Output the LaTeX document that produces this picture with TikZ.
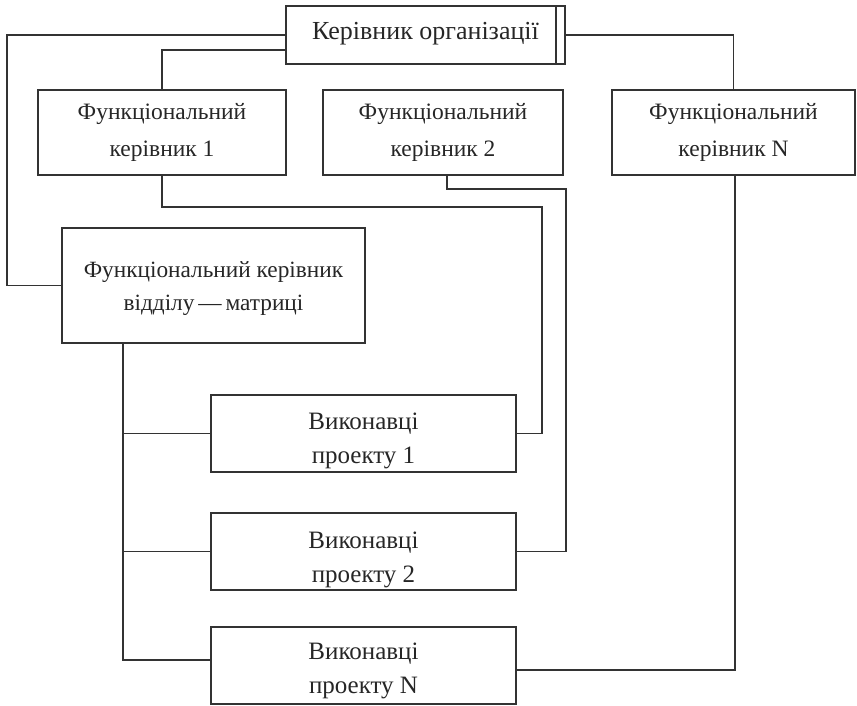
\documentclass[tikz,border=0pt]{standalone}
\usepackage{fontspec}
\setmainfont{Liberation Serif}
\begin{document}
\begin{tikzpicture}[x=1pt,y=-1pt,
  line width=1.3pt,
  ink/.style={draw=black!80},
  box/.style={ink, rectangle, inner sep=0pt},
  txt/.style={inner sep=0pt, align=center, text=black!85},
  fkfont/.style={font=\fontsize{23.5}{37}\selectfont},
  vkfont/.style={font=\fontsize{25}{34}\selectfont},
  link/.style={ink, line width=1.3pt}]
\useasboundingbox (0,0) rectangle (857,705);

% head of the organisation, with a doubled right edge
\node[box, minimum width=279, minimum height=58,
  label={[txt, font=\fontsize{26}{30}\selectfont, yshift=1pt]center:Керівник організації}] (top) at (425.5,35) {};
\draw[link] (556,6) -- (556,64);

% functional managers
\node[box, minimum width=248, minimum height=85,
  label={[txt, fkfont]center:{Функціональний\\керівник 1}}] (fk1) at (162,132.5) {};
\node[box, minimum width=240, minimum height=85,
  label={[txt, fkfont]center:{Функціональний\\керівник 2}}] (fk2) at (443,132.5) {};
\node[box, minimum width=243, minimum height=85,
  label={[txt, fkfont]center:{Функціональний\\керівник N}}] (fkn) at (733.5,132.5) {};

% matrix manager
\node[box, minimum width=303, minimum height=115,
  label={[txt, font=\fontsize{23.3}{33}\selectfont, yshift=-3pt]center:{Функціональний керівник\\відділу\,—\,матриці}}] (mx) at (213.5,285.5) {};

% project teams
\node[box, minimum width=305, minimum height=77,
  label={[txt, vkfont, yshift=-7pt]center:{Виконавці\\проекту 1}}] (v1) at (363.5,433.5) {};
\node[box, minimum width=305, minimum height=77,
  label={[txt, vkfont, yshift=-8pt]center:{Виконавці\\проекту 2}}] (v2) at (363.5,551.5) {};
\node[box, minimum width=305, minimum height=77,
  label={[txt, vkfont, yshift=-5pt]center:{Виконавці\\проекту N}}] (vn) at (363.5,665.5) {};

% connectors from the head
\draw[link] (top.west) -- (7,35) |- (mx.west);
\draw[link] ([yshift=-15pt]top.west) -| (fk1.north);
\draw[link] (top.east) -| (fkn.north);

% functional managers to project teams
\draw[link] (fk1.south) |- (542,207) |- (v1.east);
\draw[link] ([xshift=4pt]fk2.south) |- (566,189) |- (v2.east);
\coordinate (vnr) at ([yshift=-4.5pt]vn.east);
\draw[link] ([xshift=1.5pt]fkn.south) |- (vnr);

% matrix manager to project teams
\coordinate (mxb) at (123,343);
\draw[link] (mxb) |- ([yshift=5.5pt]vn.west);
\draw[link] (123,433.5) -- (v1.west);
\draw[link] (123,551.5) -- (v2.west);
\end{tikzpicture}
\end{document}
